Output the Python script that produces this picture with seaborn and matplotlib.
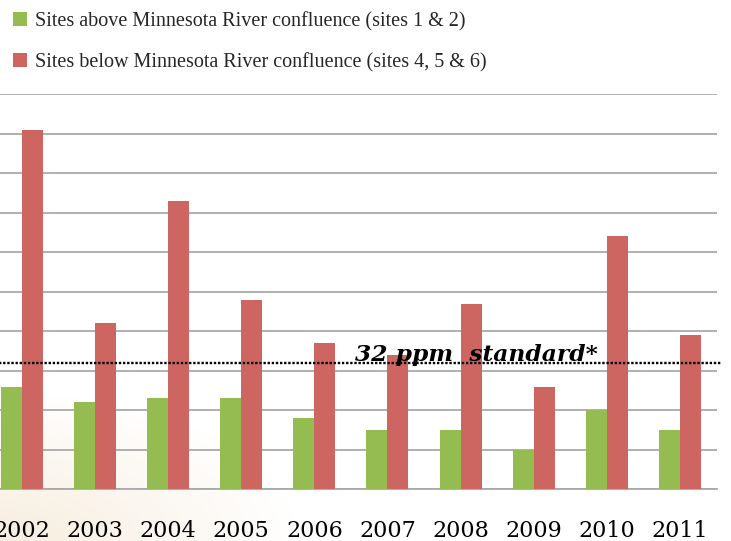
import numpy as np
import pandas as pd
import matplotlib
matplotlib.use("Agg")
import matplotlib.pyplot as plt
import seaborn as sns
from matplotlib.patches import Patch

# ---- data ----
years = ["2002", "2003", "2004", "2005", "2006", "2007", "2008", "2009", "2010", "2011"]
above = [26, 22, 23, 23, 18, 15, 15, 10, 20, 15]
below = [91, 42, 73, 48, 37, 34, 47, 26, 64, 39]
series_names = ["Sites above Minnesota River confluence (sites 1 & 2)",
                "Sites below Minnesota River confluence (sites 4, 5 & 6)"]
colors = ["#94BC50", "#CD6660"]
standard_value = 32
standard_label = "32 ppm  standard*"

df = pd.DataFrame({
    "year": years * 2,
    "value": above + below,
    "series": [series_names[0]] * len(years) + [series_names[1]] * len(years),
})

sns.set_theme(style="white")
plt.rcParams["font.family"] = ["DejaVu Serif", "DejaVu Sans"]

W, H = 731, 541
fig = plt.figure(figsize=(W / 100, H / 100), dpi=100)

# faint beige slide background in the lower-left corner
bg = fig.add_axes([0, 0, 1, 1], zorder=-5)
yy, xx = np.mgrid[0:H, 0:W]
d = np.sqrt(((xx) / 300.0) ** 2 + ((H - yy) / 150.0) ** 2)
alpha = np.clip(1.0 - d, 0, 1) * 0.5
img = np.zeros((H, W, 4))
img[..., 0] = 0.94
img[..., 1] = 0.86
img[..., 2] = 0.74
img[..., 3] = alpha
bg.imshow(img, aspect="auto", extent=[0, 1, 0, 1], origin="upper")
bg.set_axis_off()

left_px, right_px = -14.9, 716.7
bottom_px, top_px = 489.3, 94.0
ax = fig.add_axes([left_px / W, (H - bottom_px) / H,
                   (right_px - left_px) / W, (bottom_px - top_px) / H])
ax.set_facecolor("none")

sns.barplot(data=df, x="year", y="value", hue="series", palette=colors,
            width=0.574, gap=0, saturation=1, ax=ax, order=years,
            hue_order=series_names, edgecolor="none", linewidth=0, zorder=3)

if ax.get_legend() is not None:
    ax.get_legend().remove()

ax.set_ylim(0, 100)
ax.set_xlim(-0.5, len(years) - 0.5)
ax.set_yticks(np.arange(0, 101, 10))
ax.set_yticklabels([])
ax.set_xlabel("")
ax.set_ylabel("")

ax.yaxis.grid(True, color="#a9a9a9", linewidth=1.3, zorder=0)
ax.set_axisbelow(True)
for s in ["left", "right", "top"]:
    ax.spines[s].set_visible(False)
ax.spines["bottom"].set_color("#a9a9a9")
ax.spines["bottom"].set_linewidth(1.3)

ax.tick_params(axis="y", length=0)
ax.set_xticks(np.arange(-0.5, len(years), 1.0), minor=True)
ax.tick_params(axis="x", which="minor", length=5.5, width=1.1, color="#a9a9a9",
               direction="out")
ax.tick_params(axis="x", which="major", length=0, pad=22, labelsize=16,
               labelcolor="black")
for t in ax.get_xticklabels():
    t.set_fontfamily(["DejaVu Serif"])

# dotted standard line
ax.plot([0, 1.007], [standard_value, standard_value],
        transform=ax.get_yaxis_transform(), color="black", linewidth=1.7,
        linestyle=(0, (1, 0.75)), dash_capstyle="butt", clip_on=False, zorder=5)
ax.text(4.556, standard_value + 0.4, standard_label, fontsize=16.8,
        fontweight="bold", fontstyle="italic", family=["DejaVu Serif"],
        ha="left", va="baseline", color="black", zorder=6)

# legend
leg_handles = [Patch(facecolor=c, edgecolor="none") for c in colors]
fig.legend(leg_handles, series_names, loc="upper left",
           bbox_to_anchor=(13 / W, 1 - 12 / H), frameon=False,
           prop={"family": ["Liberation Serif"], "size": 14.5},
           handlelength=0.68, handleheight=0.68, handletextpad=0.4,
           labelspacing=1.05, borderpad=0, borderaxespad=0)

fig.savefig("out.png", dpi=100)
